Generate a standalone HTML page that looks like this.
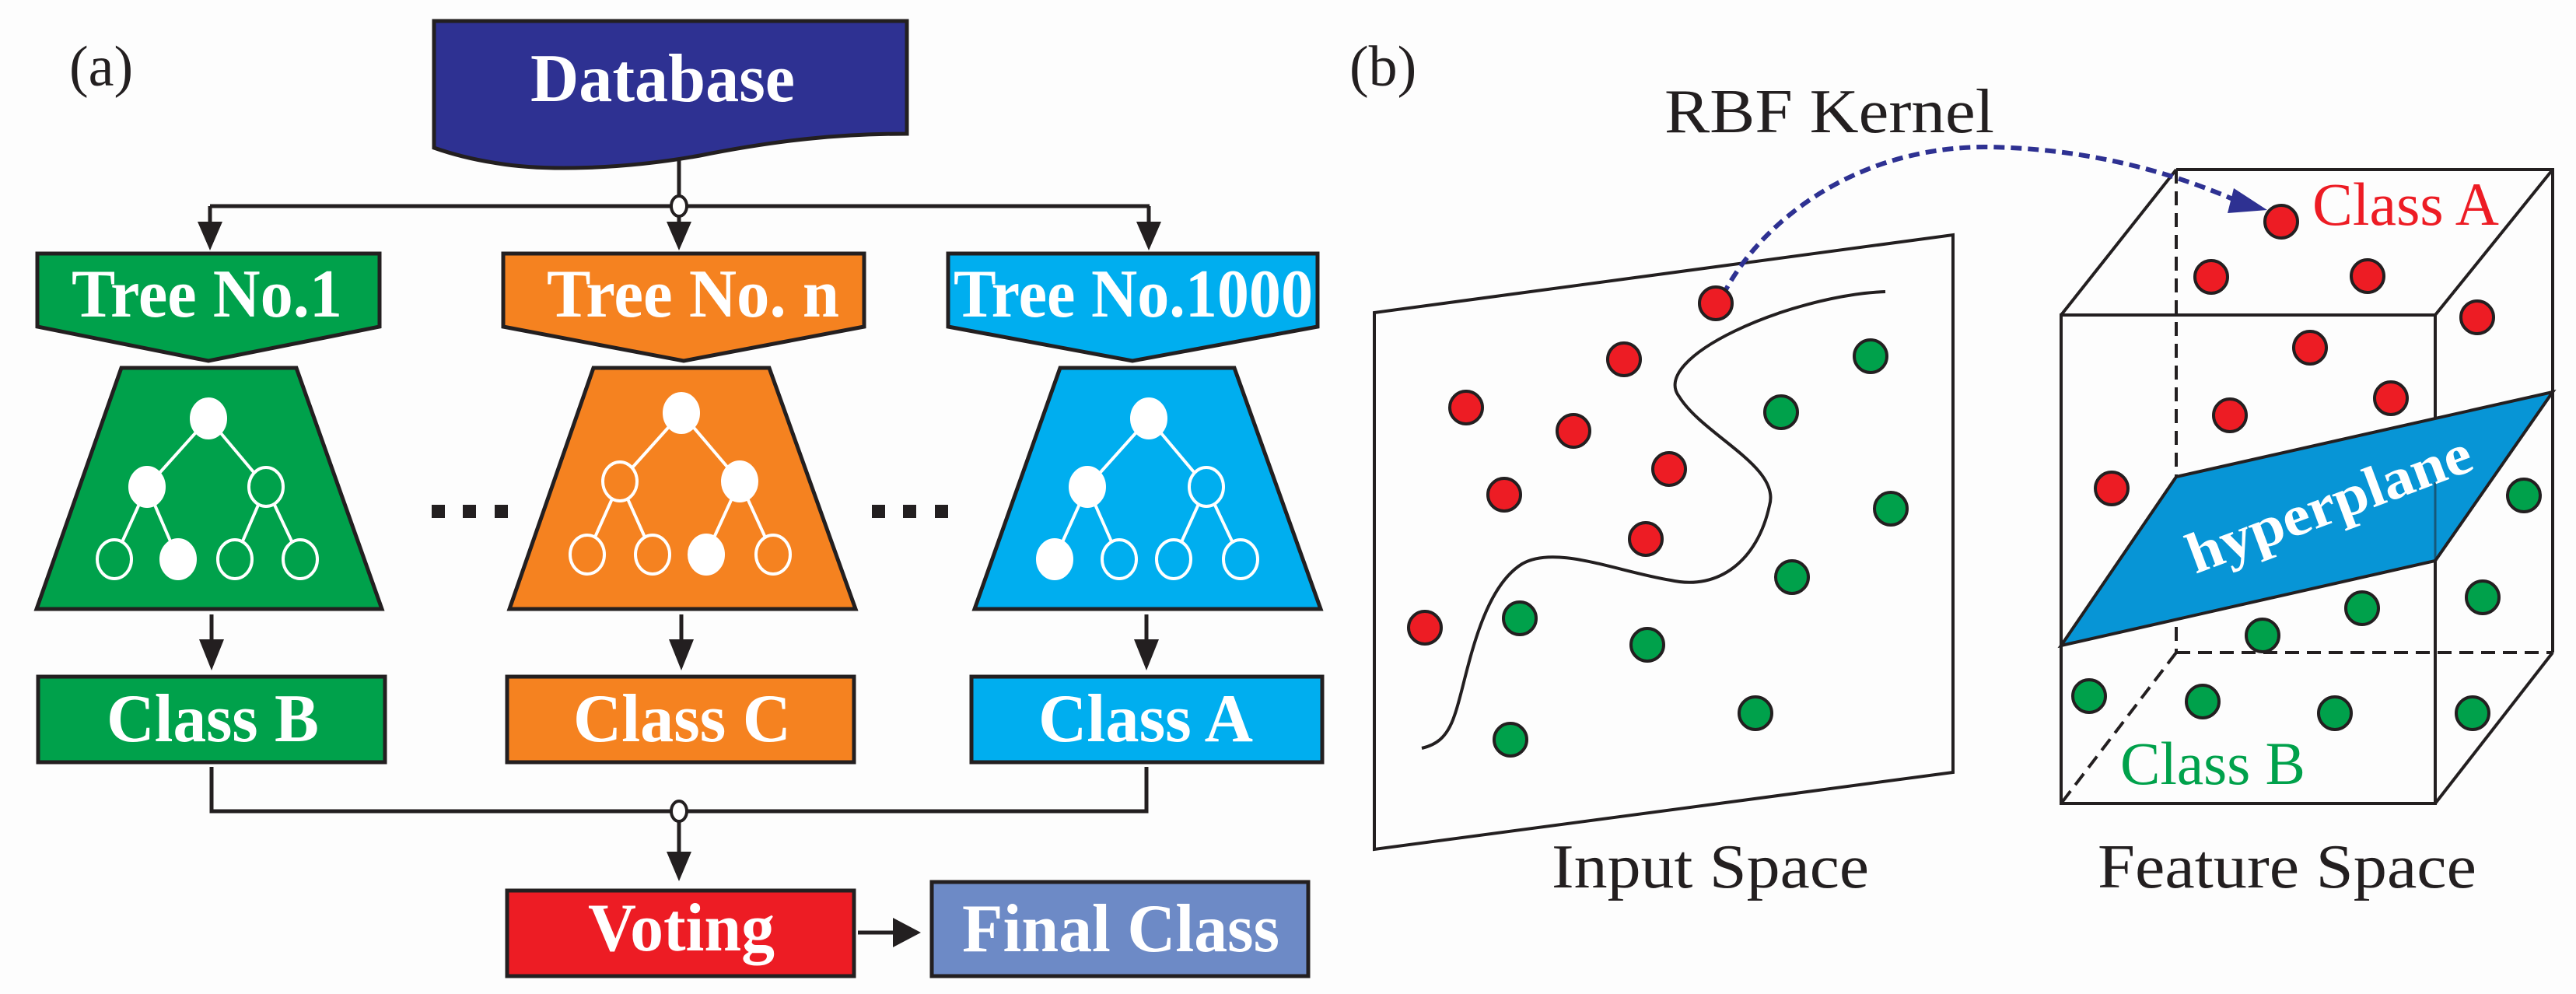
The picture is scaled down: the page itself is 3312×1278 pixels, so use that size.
<!DOCTYPE html>
<html><head><meta charset="utf-8"><style>
html,body{margin:0;padding:0;background:#fdfdfd;}
svg{display:block;}
text{font-family:"Liberation Serif",serif;}
</style></head><body>
<svg width="3312" height="1278" viewBox="0 0 3312 1278" xmlns="http://www.w3.org/2000/svg">
<defs>
<marker id="ah" viewBox="0 0 10 10" refX="10" refY="5" markerWidth="10" markerHeight="10" markerUnits="userSpaceOnUse" orient="auto"><path d="M0,0 L10,5 L0,10z" fill="#231f20"/></marker>
</defs>
<rect width="3312" height="1278" fill="#fdfdfd"/>
<g stroke="#231f20" stroke-width="5">
<!-- (a) panel -->
<path d="M558,27 H1166 V172 C1080,172 1000,180 900,200 C800,218 700,220 640,210 C600,204 575,196 558,190 Z" fill="#2e3192"/>
<path d="M873,205 V253" fill="none"/>
<path d="M270,265 H1478" fill="none"/>
<path d="M270,265 V300 M873,277 V300 M1477,265 V300" fill="none"/>
<ellipse cx="873" cy="265" rx="10" ry="13" fill="#fff" stroke-width="4"/>
<path d="M48,326 H488 V420 L268,464 L48,420 Z" fill="#00a14b"/>
<path d="M647,326 H1111 V420 L879,464 L647,420 Z" fill="#f58220"/>
<path d="M1219,326 H1694 V420 L1456,464 L1219,420 Z" fill="#00aeef"/>
<path d="M156,473 H381 L491,783 H47 Z" fill="#00a14b"/>
<path d="M763,473 H989 L1100,783 H655 Z" fill="#f58220"/>
<path d="M1363,473 H1587 L1698,783 H1253 Z" fill="#00aeef"/>
<path d="M272,790 V835 M876,790 V835 M1474,790 V835" fill="none"/>
<rect x="49" y="870" width="446" height="110" fill="#00a14b"/>
<rect x="652" y="870" width="446" height="110" fill="#f58220"/>
<rect x="1249" y="870" width="451" height="110" fill="#00aeef"/>
<path d="M272,986 V1043 H1474 V986" fill="none"/>
<path d="M873,1055 V1105" fill="none"/>
<ellipse cx="873" cy="1043" rx="10" ry="13" fill="#fff" stroke-width="4"/>
<rect x="652" y="1145" width="446" height="110" fill="#ed1c24"/>
<rect x="1198" y="1134" width="484" height="121" fill="#6d8ac6"/>
<path d="M1103,1199 H1150" fill="none"/>
</g>
<g fill="#231f20">
<path d="M254,285 H286 L270,322 Z"/>
<path d="M857,285 H889 L873,322 Z"/>
<path d="M1461,285 H1493 L1477,322 Z"/>
<path d="M256,822 H288 L272,862 Z"/>
<path d="M860,822 H892 L876,862 Z"/>
<path d="M1458,822 H1490 L1474,862 Z"/>
<path d="M857,1095 H889 L873,1133 Z"/>
<path d="M1148,1180 L1184,1199 L1148,1218 Z"/>
<rect x="555" y="649" width="17" height="17"/><rect x="595" y="649" width="17" height="17"/><rect x="636" y="649" width="17" height="17"/>
<rect x="1121" y="649" width="17" height="17"/><rect x="1161" y="649" width="17" height="17"/><rect x="1202" y="649" width="17" height="17"/>
</g>
<!-- trees -->
<g stroke="#fff" stroke-width="4" fill="none">
<path d="M268,538 L189,626 M268,538 L342,626 M189,626 L147,719 M189,626 L229,719 M342,626 L302,719 M342,626 L386,719"/>
<path d="M876,531 L797,619 M876,531 L951,619 M797,619 L755,713 M797,619 L839,713 M951,619 L908,713 M951,619 L994,713"/>
<path d="M1477,538 L1398,626 M1477,538 L1551,626 M1398,626 L1356,719 M1398,626 L1439,719 M1551,626 L1509,719 M1551,626 L1595,719"/>
</g>
<g stroke="#fff" stroke-width="4">
<ellipse cx="268" cy="538" rx="22" ry="25" fill="#fff"/><ellipse cx="189" cy="626" rx="22" ry="25" fill="#fff"/><ellipse cx="342" cy="626" rx="22" ry="25" fill="#00a14b"/>
<ellipse cx="147" cy="719" rx="22" ry="25" fill="#00a14b"/><ellipse cx="229" cy="719" rx="22" ry="25" fill="#fff"/><ellipse cx="302" cy="719" rx="22" ry="25" fill="#00a14b"/><ellipse cx="386" cy="719" rx="22" ry="25" fill="#00a14b"/>
<ellipse cx="876" cy="531" rx="22" ry="25" fill="#fff"/><ellipse cx="797" cy="619" rx="22" ry="25" fill="#f58220"/><ellipse cx="951" cy="619" rx="22" ry="25" fill="#fff"/>
<ellipse cx="755" cy="713" rx="22" ry="25" fill="#f58220"/><ellipse cx="839" cy="713" rx="22" ry="25" fill="#f58220"/><ellipse cx="908" cy="713" rx="22" ry="25" fill="#fff"/><ellipse cx="994" cy="713" rx="22" ry="25" fill="#f58220"/>
<ellipse cx="1477" cy="538" rx="22" ry="25" fill="#fff"/><ellipse cx="1398" cy="626" rx="22" ry="25" fill="#fff"/><ellipse cx="1551" cy="626" rx="22" ry="25" fill="#00aeef"/>
<ellipse cx="1356" cy="719" rx="22" ry="25" fill="#fff"/><ellipse cx="1439" cy="719" rx="22" ry="25" fill="#00aeef"/><ellipse cx="1509" cy="719" rx="22" ry="25" fill="#00aeef"/><ellipse cx="1595" cy="719" rx="22" ry="25" fill="#00aeef"/>
</g>
<g fill="#fff" font-weight="bold" font-size="88" lengthAdjust="spacingAndGlyphs">
<text x="682" y="130" textLength="340" lengthAdjust="spacingAndGlyphs">Database</text>
<text x="92" y="407" textLength="348" lengthAdjust="spacingAndGlyphs">Tree No.1</text>
<text x="703" y="407" textLength="376" lengthAdjust="spacingAndGlyphs">Tree No. n</text>
<text x="1226" y="407" textLength="462" lengthAdjust="spacingAndGlyphs">Tree No.1000</text>
<text x="137" y="953" textLength="273" lengthAdjust="spacingAndGlyphs">Class B</text>
<text x="737" y="953" textLength="280" lengthAdjust="spacingAndGlyphs">Class C</text>
<text x="1335" y="953" textLength="276" lengthAdjust="spacingAndGlyphs">Class A</text>
<text x="756" y="1222" textLength="240" lengthAdjust="spacingAndGlyphs">Voting</text>
<text x="1237" y="1223" textLength="408" lengthAdjust="spacingAndGlyphs">Final Class</text>
</g>
<text x="89" y="110" font-size="74" fill="#231f20">(a)</text>
<!-- (b) panel -->
<text x="1735" y="110" font-size="74" fill="#231f20">(b)</text>
<text x="2140" y="170" font-size="80" fill="#231f20" textLength="424" lengthAdjust="spacingAndGlyphs">RBF Kernel</text>
<text x="1995" y="1141" font-size="80" fill="#231f20" textLength="408" lengthAdjust="spacingAndGlyphs">Input Space</text>
<text x="2697" y="1141" font-size="80" fill="#231f20" textLength="487" lengthAdjust="spacingAndGlyphs">Feature Space</text>
<polygon points="1767,402 2511,302 2511,993 1767,1092" fill="none" stroke="#231f20" stroke-width="4"/>
<path d="M2424,375 C2300,380 2120,460 2159,510 C2190,560 2290,600 2275,650 C2260,720 2210,760 2148,746 C2080,735 2000,700 1957,725 C1900,760 1885,880 1870,920 C1860,950 1845,958 1828,962" fill="none" stroke="#231f20" stroke-width="4"/>
<!-- cube -->
<g stroke="#231f20" stroke-width="4" fill="none">
<path d="M2798,218 V839 M2798,839 H3282 M2798,839 L2650,1033" stroke-dasharray="18,10"/>
<path d="M2798,218 H3282 V839 M2650,405 L2798,218 M3131,405 L3282,218 M3131,1033 L3282,839"/>
<rect x="2650" y="405" width="481" height="628"/>
</g>
<polygon points="2798,613 3282,504 3131,721 2650,830" fill="#0795d6" stroke="#231f20" stroke-width="4"/>
<path d="M3131,721 V620" stroke="#231f20" stroke-width="3" opacity="0.5"/>
<text x="2995" y="672" font-size="74" font-weight="bold" fill="#fff" text-anchor="middle" transform="rotate(-20.5 2995 649)" textLength="385" lengthAdjust="spacingAndGlyphs">hyperplane</text>
<text x="2973" y="289" font-size="78" fill="#ed1c24" textLength="240" lengthAdjust="spacingAndGlyphs">Class A</text>
<text x="2726" y="1008" font-size="78" fill="#00a14b" textLength="238" lengthAdjust="spacingAndGlyphs">Class B</text>
<path d="M2215,380 C2260,290 2380,190 2551,189 C2680,190 2790,220 2880,260" fill="none" stroke="#2e3192" stroke-width="6" stroke-dasharray="14,8"/>
<path d="M2872,242 L2915,270 L2864,274 Z" fill="#2e3192"/>
<g stroke="#231f20" stroke-width="4" fill="#ed1c24">
<circle cx="2206" cy="390" r="21"/><circle cx="2088" cy="462" r="21"/><circle cx="1885" cy="524" r="21"/><circle cx="2023" cy="554" r="21"/>
<circle cx="2146" cy="603" r="21"/><circle cx="1934" cy="636" r="21"/><circle cx="2116" cy="693" r="21"/><circle cx="1832" cy="807" r="21"/>
<circle cx="2933" cy="285" r="21"/><circle cx="2843" cy="356" r="21"/><circle cx="3044" cy="355" r="21"/><circle cx="3185" cy="408" r="21"/>
<circle cx="2970" cy="447" r="21"/><circle cx="2867" cy="534" r="21"/><circle cx="3074" cy="512" r="21"/><circle cx="2715" cy="628" r="21"/>
</g>
<g stroke="#231f20" stroke-width="4" fill="#00a14b">
<circle cx="2405" cy="458" r="21"/><circle cx="2290" cy="530" r="21"/><circle cx="2431" cy="654" r="21"/><circle cx="2304" cy="742" r="21"/>
<circle cx="1954" cy="795" r="21"/><circle cx="2118" cy="829" r="21"/><circle cx="2257" cy="917" r="21"/><circle cx="1942" cy="951" r="21"/>
<circle cx="3245" cy="637" r="21"/><circle cx="3192" cy="768" r="21"/><circle cx="3037" cy="782" r="21"/><circle cx="2909" cy="817" r="21"/>
<circle cx="2686" cy="895" r="21"/><circle cx="2832" cy="902" r="21"/><circle cx="3002" cy="917" r="21"/><circle cx="3179" cy="917" r="21"/>
</g>
</svg>
</body></html>
